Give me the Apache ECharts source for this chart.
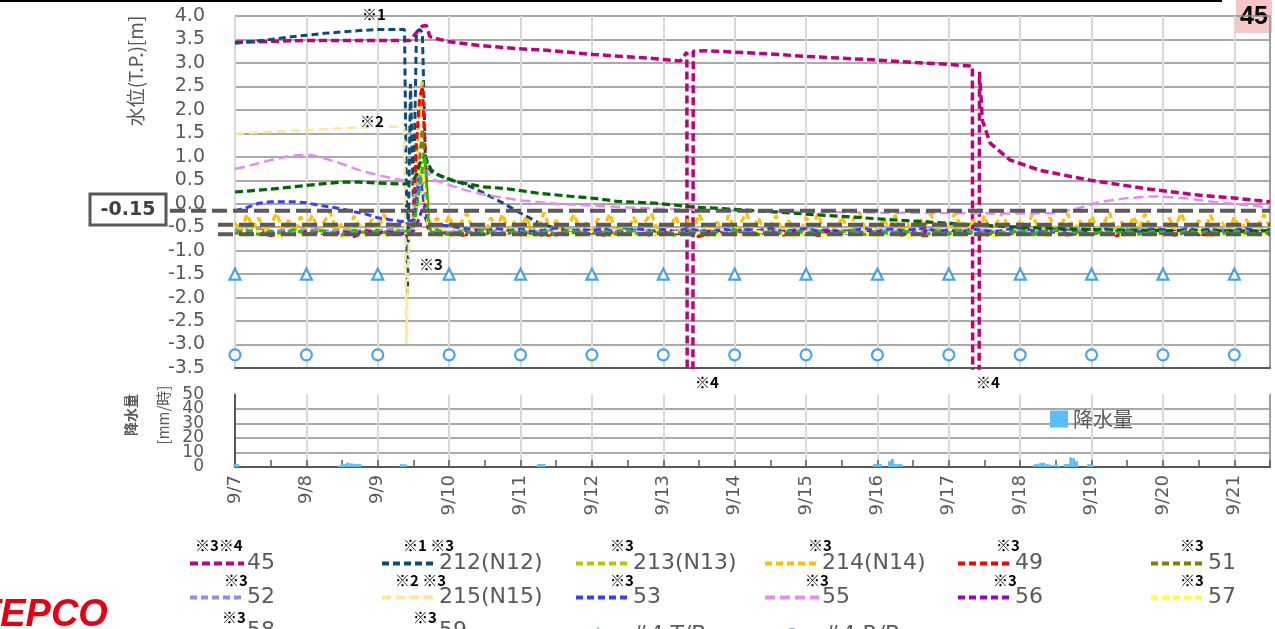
<!DOCTYPE html>
<html>
<head>
<meta charset="utf-8">
<script src="https://cdn.jsdelivr.net/npm/echarts@6/dist/echarts.min.js"></script>
<style>
html,body{margin:0;padding:0;background:#fff;overflow:hidden}
#chart{width:1275px;height:629px}
</style>
</head>
<body>
<div id="chart"></div>
<script>
// ---- x axis: days counted from 9/7 0:00 ----
const dateLabels = ['9/7','9/8','9/9','9/10','9/11','9/12','9/13','9/14','9/15','9/16','9/17','9/18','9/19','9/20','9/21'];

// ---- reference levels (T.P. m) ----
const refLevels = [-0.15, -0.45, -0.65];

// ---- daily readings of building water levels ----
const tbLevels = [-1.5,-1.5,-1.5,-1.5,-1.5,-1.5,-1.5,-1.5,-1.5,-1.5,-1.5,-1.5,-1.5,-1.5,-1.5];
const rbLevels = [-3.22,-3.22,-3.22,-3.22,-3.22,-3.22,-3.22,-3.22,-3.22,-3.22,-3.22,-3.22,-3.22,-3.22,-3.22];

// ---- smooth wells: [day, level] ----
const w45 = [[0,3.44],[0.5,3.46],[1,3.48],[1.5,3.48],[2,3.48],[2.45,3.48],[2.55,3.66],[2.62,3.78],[2.68,3.80],[2.73,3.56],[2.97,3.46],[3.43,3.37],[4.0,3.30],[4.37,3.27],[5.02,3.18],[5.82,3.10],[6.24,3.04],[6.33,3.23],[6.335,-4],[6.415,-4],[6.42,3.25],[6.6,3.26],[7,3.23],[7.5,3.19],[8,3.14],[8.5,3.10],[9,3.06],[9.5,3.01],[10,2.97],[10.33,2.93],[10.335,-4],[10.425,-4],[10.43,2.81],[10.47,1.78],[10.58,1.29],[10.86,0.93],[11.28,0.71],[11.98,0.50],[12.82,0.31],[13.52,0.18],[13.99,0.12],[14.5,0.04]];
const w212 = [[0,3.42],[0.25,3.46],[0.5,3.50],[0.75,3.55],[1,3.59],[1.25,3.63],[1.5,3.66],[1.75,3.69],[2,3.71],[2.375,3.71],[2.4167,-1.9],[2.4583,2.55],[2.5,0.0],[2.5417,3.65],[2.5833,3.72],[2.625,3.65],[2.6667,1.0],[2.7083,0.78],[2.75,0.68],[2.8333,0.62],[3.0,0.52],[3.25,0.40],[3.48,0.23],[3.75,0.02],[3.95,-0.16],[4.27,-0.42],[4.5,-0.52],[4.75,-0.56],[5.0,-0.58],[5.5,-0.55],[6,-0.60],[6.5,-0.57],[7,-0.55],[7.5,-0.59],[8,-0.56],[8.5,-0.60],[9,-0.57],[9.5,-0.55],[10,-0.58],[10.5,-0.60],[11,-0.56],[11.5,-0.58],[12,-0.55],[12.5,-0.59],[13,-0.57],[13.5,-0.56],[14,-0.58],[14.5,-0.57]];
const w215 = [[0,1.49],[0.5,1.53],[1,1.57],[1.5,1.61],[2,1.64],[2.37,1.64],[2.40,-2.98],[2.44,-0.55],[2.6,-0.52],[2.8,-0.56],[3,-0.55],[3.5,-0.58],[4,-0.55],[4.5,-0.57],[5,-0.54],[5.5,-0.58],[6,-0.56],[6.5,-0.53],[7,-0.57],[7.5,-0.55],[8,-0.58],[8.5,-0.54],[9,-0.56],[9.5,-0.58],[10,-0.55],[10.5,-0.57],[11,-0.54],[11.5,-0.56],[12,-0.58],[12.5,-0.55],[13,-0.57],[13.5,-0.54],[14,-0.56],[14.5,-0.55]];
const w55 = [[0,0.74],[0.25,0.83],[0.5,0.93],[0.75,1.01],[1,1.05],[1.1,1.03],[1.25,0.97],[1.5,0.85],[1.75,0.71],[2,0.61],[2.25,0.53],[2.4,0.49],[2.5,0.52],[2.6,0.62],[2.67,0.70],[2.72,0.62],[2.8,0.50],[3,0.40],[3.25,0.28],[3.5,0.19],[4,0.07],[4.5,0.0],[5,-0.04],[5.5,-0.08],[6,-0.11],[6.5,-0.13],[7,-0.15],[8,-0.17],[9,-0.19],[10,-0.20],[11,-0.21],[11.5,-0.20],[11.8,-0.10],[12.1,0.03],[12.5,0.12],[12.9,0.16],[13.3,0.12],[13.7,0.04],[14.1,-0.02],[14.5,-0.08]];
const w58 = [[0,0.25],[0.25,0.28],[0.5,0.31],[0.75,0.35],[1,0.39],[1.25,0.43],[1.5,0.46],[1.75,0.46],[2,0.44],[2.375,0.42],[2.5,0.50],[2.5417,0.62],[2.5833,0.85],[2.625,0.95],[2.6667,1.0],[2.7083,0.85],[2.75,0.72],[2.87,0.60],[3.1,0.47],[3.48,0.36],[3.81,0.32],[4.27,0.22],[4.7,0.16],[5.07,0.11],[5.35,0.05],[5.91,0.01],[6.42,-0.07],[7,-0.12],[7.5,-0.17],[8,-0.22],[8.5,-0.27],[9.3,-0.35],[10,-0.42],[10.5,-0.46],[11,-0.50],[11.5,-0.53],[12,-0.55],[13,-0.57],[14.5,-0.58]];

// ---- fluctuating wells: 2-hourly (214) and 4-hourly (others) readings ----
const w214Base = [-0.40,-0.60,-0.22,-0.52,-0.30,-0.62,-0.45,-0.20,-0.55,-0.35,-0.64,-0.28,
 -0.50,-0.24,-0.58,-0.38,-0.18,-0.55,-0.42,-0.63,-0.26,-0.48,-0.60,-0.33,
 -0.56,-0.22,-0.47,-0.62,-0.36,-0.45,-0.50,-0.55,-0.40,-0.58,-0.30,-0.52,
 -0.25,-0.60,-0.40,-0.20,-0.57,-0.46,-0.65,-0.30,-0.52,-0.22,-0.61,-0.38,
 -0.54,-0.27,-0.62,-0.44,-0.19,-0.58,-0.35,-0.63,-0.48,-0.23,-0.56,-0.40,
 -0.61,-0.32,-0.50,-0.21,-0.59,-0.43,-0.64,-0.28,-0.53,-0.37,-0.20,-0.57,
 -0.45,-0.62,-0.26,-0.51,-0.34,-0.60,-0.22,-0.48,-0.63,-0.39,-0.55,-0.24,
 -0.58,-0.41,-0.19,-0.56,-0.30,-0.62,-0.47,-0.25,-0.60,-0.36,-0.52,-0.64,
 -0.29,-0.49,-0.21,-0.59,-0.42,-0.63,-0.27,-0.54,-0.33,-0.18,-0.57,-0.45,
 -0.62,-0.31,-0.53,-0.24,-0.60,-0.40,-0.65,-0.28,-0.50,-0.22,-0.58,-0.37,
 -0.55,-0.20,-0.47,-0.63,-0.32,-0.57,-0.25,-0.61,-0.43,-0.19,-0.52,-0.60,
 -0.34,-0.58,-0.23,-0.50,-0.64,-0.29,-0.55,-0.41,-0.21,-0.59,-0.36,-0.62,
 -0.26,-0.53,-0.45,-0.18,-0.60,-0.38,-0.63,-0.27,-0.51,-0.22,-0.57,-0.44,
 -0.61,-0.30,-0.55,-0.20,-0.48,-0.64,-0.35,-0.58,-0.24,-0.52,-0.41,-0.62,
 -0.28,-0.56,-0.33,-0.60,-0.46,-0.23,-0.54];
const w214Peak = [[2.4583,-0.45],[2.5,-0.2],[2.5417,0.9],[2.5833,2.0],[2.625,2.6],[2.6667,0.6],[2.7083,-0.3],[2.75,-0.45]];

const w49Base = [-0.62,-0.66,-0.60,-0.68,-0.63,-0.59, -0.65,-0.61,-0.67,-0.62,-0.70,-0.60, -0.64,-0.58,-0.66,-0.60,-0.62,-0.67, -0.61,-0.68,-0.63,-0.57,-0.65,-0.62, -0.66,-0.60,-0.69,-0.63,-0.58,-0.64, -0.62,-0.67,-0.60,-0.65,-0.61,-0.68, -0.59,-0.64,-0.62,-0.70,-0.63,-0.60, -0.66,-0.61,-0.65,-0.58,-0.67,-0.63, -0.60,-0.68,-0.62,-0.64,-0.59,-0.66, -0.63,-0.57,-0.67,-0.61,-0.69,-0.62, -0.65,-0.60,-0.63,-0.68,-0.61,-0.64, -0.58,-0.66,-0.62,-0.60,-0.67,-0.63, -0.64,-0.61,-0.69,-0.62,-0.59,-0.65, -0.62,-0.67,-0.60,-0.64,-0.68,-0.61, -0.63,-0.59,-0.66,-0.62];
const w49Peak = [[2.4583,-0.62],[2.5,-0.45],[2.5417,1.3],[2.5833,2.2],[2.625,2.5],[2.6667,1.0],[2.7083,-0.5],[2.75,-0.6]];

const w51Base = [-0.58,-0.62,-0.56,-0.61,-0.64,-0.57, -0.60,-0.55,-0.63,-0.59,-0.62,-0.66, -0.57,-0.61,-0.60,-0.58,-0.62,-0.59, -0.63,-0.58,-0.61,-0.65,-0.57,-0.60, -0.59,-0.64,-0.56,-0.61,-0.63,-0.58, -0.62,-0.57,-0.65,-0.60,-0.58,-0.63, -0.56,-0.61,-0.59,-0.64,-0.60,-0.57, -0.63,-0.59,-0.62,-0.56,-0.65,-0.60, -0.58,-0.62,-0.60,-0.57,-0.63,-0.61, -0.64,-0.58,-0.61,-0.59,-0.56,-0.62, -0.60,-0.65,-0.58,-0.62,-0.59,-0.57, -0.61,-0.57,-0.63,-0.60,-0.64,-0.58, -0.59,-0.62,-0.56,-0.61,-0.58,-0.63, -0.62,-0.58,-0.64,-0.60,-0.57,-0.61, -0.58,-0.63,-0.60,-0.59];
const w51Peak = [[2.4583,-0.6],[2.5,-0.55],[2.5417,0.0],[2.5833,0.9],[2.625,1.6],[2.6667,0.35],[2.7083,-0.5],[2.75,-0.6]];

const w213Base = [-0.55,-0.59,-0.53,-0.60,-0.56,-0.58, -0.54,-0.60,-0.57,-0.52,-0.59,-0.56, -0.58,-0.55,-0.57,-0.56,-0.58,-0.54, -0.60,-0.55,-0.58,-0.53,-0.57,-0.61, -0.56,-0.52,-0.59,-0.57,-0.54,-0.60, -0.58,-0.61,-0.55,-0.57,-0.53,-0.59, -0.54,-0.58,-0.60,-0.56,-0.59,-0.55, -0.57,-0.53,-0.58,-0.61,-0.55,-0.57, -0.60,-0.56,-0.54,-0.58,-0.61,-0.56, -0.55,-0.59,-0.57,-0.53,-0.58,-0.60, -0.57,-0.54,-0.60,-0.56,-0.59,-0.55, -0.59,-0.56,-0.53,-0.58,-0.55,-0.60, -0.56,-0.60,-0.57,-0.54,-0.59,-0.57, -0.58,-0.55,-0.59,-0.56,-0.53,-0.58, -0.56,-0.59,-0.55,-0.58];
const w213Peak = [[2.4583,-0.57],[2.5,-0.5],[2.5417,-0.1],[2.5833,0.4],[2.625,0.9],[2.6667,0.1],[2.7083,-0.5],[2.75,-0.57]];

const w57Base = [-0.60,-0.68,-0.58,-0.65,-0.70,-0.61, -0.66,-0.59,-0.64,-0.71,-0.60,-0.67, -0.62,-0.69,-0.61,-0.64,-0.60,-0.66, -0.70,-0.61,-0.67,-0.59,-0.65,-0.62, -0.64,-0.71,-0.60,-0.66,-0.62,-0.69, -0.59,-0.65,-0.70,-0.61,-0.67,-0.63, -0.68,-0.60,-0.64,-0.62,-0.71,-0.61, -0.63,-0.69,-0.59,-0.66,-0.62,-0.70, -0.61,-0.65,-0.68,-0.60,-0.64,-0.62, -0.69,-0.62,-0.66,-0.70,-0.60,-0.65, -0.62,-0.68,-0.61,-0.64,-0.69,-0.60, -0.66,-0.60,-0.70,-0.63,-0.61,-0.67, -0.60,-0.66,-0.62,-0.69,-0.64,-0.61, -0.67,-0.61,-0.65,-0.60,-0.70,-0.63, -0.62,-0.68,-0.60,-0.65];
const w57Peak = [[2.4583,-0.62],[2.5,-0.55],[2.5417,-0.2],[2.5833,0.3],[2.625,0.85],[2.6667,0.2],[2.7083,-0.55],[2.75,-0.62]];

const w59Base = [-0.63,-0.56,-0.66,-0.58,-0.62,-0.55, -0.65,-0.57,-0.61,-0.67,-0.56,-0.62, -0.58,-0.64,-0.57,-0.60,-0.62,-0.56, -0.66,-0.58,-0.63,-0.55,-0.65,-0.60, -0.57,-0.64,-0.59,-0.67,-0.56,-0.62, -0.65,-0.58,-0.62,-0.56,-0.66,-0.59, -0.61,-0.67,-0.57,-0.63,-0.58,-0.65, -0.56,-0.62,-0.66,-0.58,-0.64,-0.57, -0.63,-0.57,-0.65,-0.60,-0.56,-0.66, -0.59,-0.64,-0.57,-0.62,-0.67,-0.58, -0.64,-0.56,-0.62,-0.66,-0.59,-0.63, -0.57,-0.65,-0.60,-0.56,-0.64,-0.61, -0.66,-0.58,-0.63,-0.57,-0.65,-0.59, -0.60,-0.66,-0.56,-0.63,-0.58,-0.64, -0.57,-0.62,-0.65,-0.59];
const w59Peak = [[2.4583,-0.6],[2.5,-0.5],[2.5417,-0.1],[2.5833,0.3],[2.625,0.75],[2.6667,1.02],[2.7083,-0.4],[2.75,-0.6]];

const w56Base = [-0.60,-0.63,-0.58,-0.64,-0.61,-0.66, -0.59,-0.62,-0.65,-0.60,-0.63,-0.58, -0.62,-0.60,-0.64,-0.61,-0.59,-0.63, -0.65,-0.60,-0.62,-0.58,-0.64,-0.61, -0.59,-0.63,-0.61,-0.66,-0.60,-0.62, -0.64,-0.58,-0.62,-0.60,-0.65,-0.61, -0.60,-0.64,-0.59,-0.62,-0.58,-0.63, -0.62,-0.66,-0.60,-0.63,-0.61,-0.59, -0.65,-0.61,-0.58,-0.62,-0.64,-0.60, -0.60,-0.63,-0.61,-0.65,-0.59,-0.62, -0.63,-0.59,-0.64,-0.61,-0.60,-0.65, -0.61,-0.64,-0.60,-0.58,-0.63,-0.62, -0.59,-0.62,-0.65,-0.61,-0.64,-0.60, -0.64,-0.60,-0.62,-0.66,-0.61,-0.59, -0.62,-0.65,-0.60,-0.63];
const w56Peak = [[2.4583,-0.61],[2.5,-0.58],[2.5417,-0.45],[2.5833,-0.3],[2.625,-0.1],[2.6667,0.0],[2.7083,-0.55],[2.75,-0.62]];

const w52Base = [-0.56,-0.60,-0.55,-0.61,-0.57,-0.59, -0.58,-0.54,-0.60,-0.57,-0.61,-0.56, -0.59,-0.55,-0.58,-0.57,-0.60,-0.56, -0.61,-0.57,-0.59,-0.55,-0.60,-0.58, -0.56,-0.61,-0.57,-0.59,-0.54,-0.60, -0.58,-0.56,-0.61,-0.57,-0.59,-0.55, -0.60,-0.57,-0.55,-0.59,-0.61,-0.56, -0.57,-0.60,-0.58,-0.54,-0.59,-0.61, -0.55,-0.59,-0.61,-0.57,-0.56,-0.60, -0.59,-0.55,-0.58,-0.60,-0.57,-0.54, -0.61,-0.57,-0.59,-0.56,-0.60,-0.58, -0.56,-0.60,-0.55,-0.61,-0.58,-0.57, -0.60,-0.56,-0.59,-0.57,-0.54,-0.61, -0.57,-0.61,-0.56,-0.59,-0.60,-0.55, -0.59,-0.56,-0.60,-0.58];
const w52Peak = [[2.4583,-0.58],[2.5,-0.45],[2.5417,0.2],[2.5833,0.6],[2.625,0.4],[2.6667,-0.2],[2.7083,-0.5],[2.75,-0.58]];

const w53Base = [-0.15,-0.08,0.01,0.04,0.04,0.04, 0.02,-0.03,-0.07,-0.11,-0.17,-0.22, -0.30,-0.34,-0.38,-0.40,-0.42,-0.45, -0.47,-0.52,-0.55,-0.58,-0.53,-0.57, -0.54,-0.59,-0.56,-0.52,-0.58,-0.55, -0.57,-0.53,-0.60,-0.56,-0.54,-0.58, -0.55,-0.59,-0.53,-0.57,-0.60,-0.54, -0.58,-0.55,-0.57,-0.52,-0.59,-0.56, -0.53,-0.58,-0.55,-0.60,-0.56,-0.53, -0.59,-0.54,-0.57,-0.55,-0.52,-0.58, -0.56,-0.60,-0.54,-0.57,-0.59,-0.55, -0.52,-0.57,-0.59,-0.54,-0.56,-0.60, -0.57,-0.53,-0.58,-0.56,-0.60,-0.54, -0.55,-0.59,-0.53,-0.57,-0.54,-0.58, -0.56,-0.53,-0.59,-0.55];
const w53Peak = [[2.375,-0.38],[2.5,-0.35],[2.5417,0.1],[2.5833,0.55],[2.625,0.3],[2.6667,-0.3],[2.7083,-0.45]];

// ---- hourly rainfall [day, mm/h] ----
const rainfall = [[0.00,2],[0.04,2],
 [1.46,1],[1.50,2],[1.54,2],[1.58,3],[1.63,2.5],[1.67,2],[1.71,2],[1.75,2],
 [2.33,2],[2.38,2],
 [4.25,2],[4.29,2],[4.33,2],
 [8.96,2],[9.00,2],[9.04,2],[9.17,4],[9.21,5.5],[9.25,2],[9.29,2],[9.33,2],
 [11.21,2],[11.25,2],[11.29,3],[11.33,3],[11.38,2],[11.42,1.5],[11.50,2],[11.54,1],[11.63,2],[11.67,2],[11.71,6.5],[11.75,6],[11.79,4],[11.96,2],[12.00,1.5]];

// regular readings plus the hourly readings of the 9/9 event
function withPeak(base, stepDays, peak) {
  const lo = peak[0][0], hi = peak[peak.length - 1][0];
  return base.map((v, i) => [i * stepDays, v])
    .filter(p => p[0] < lo || p[0] > hi)
    .concat(peak)
    .sort((a, b) => a[0] - b[0]);
}

const TEXT = '#595959';
const NUM_FONT = 'DejaVu Sans';
const JP_FONT = 'Noto Sans CJK JP';

function well(name, color, data, width, dash, z) {
  return {
    type: 'line', name: name, xAxisIndex: 0, yAxisIndex: 0, data: data,
    symbol: 'none', showSymbol: false, z: z || 2,
    lineStyle: { color: color, width: width, type: dash, cap: 'butt' },
    itemStyle: { color: color },
    emphasis: { disabled: true }
  };
}

const series = [
  well('45', '#c0007c', w45, 3.5, [8, 4]),
  well('212(N12)', '#0e4d73', w212, 3, [7, 4]),
  well('213(N13)', '#c0c000', withPeak(w213Base, 1/6, w213Peak), 3, [7, 4]),
  well('214(N14)', '#ffc000', withPeak(w214Base, 1/12, w214Peak), 3.2, [7, 4]),
  well('49', '#ff0000', withPeak(w49Base, 1/6, w49Peak), 3, [7, 4]),
  well('51', '#808000', withPeak(w51Base, 1/6, w51Peak), 3, [7, 4]),
  well('52', '#8c8cff', withPeak(w52Base, 1/6, w52Peak), 3, [7, 4]),
  well('215(N15)', '#ffe699', w215, 2.5, [9, 5]),
  well('53', '#3c3cff', withPeak(w53Base, 1/6, w53Peak), 3, [7, 4]),
  well('55', '#e38cf8', w55, 2.5, [10, 5]),
  well('56', '#9900cc', withPeak(w56Base, 1/6, w56Peak), 3, [7, 4]),
  well('57', '#ffff33', withPeak(w57Base, 1/6, w57Peak), 3, [7, 4]),
  well('58', '#006600', w58, 3.2, [8, 4]),
  well('59', '#22bb22', withPeak(w59Base, 1/6, w59Peak), 3, [7, 4]),
  {
    type: 'scatter', name: '#4 T/B', xAxisIndex: 0, yAxisIndex: 0, z: 6,
    data: tbLevels.map((v, i) => [i, v]),
    symbol: 'triangle', symbolSize: 11,
    itemStyle: { color: '#ffffff', borderColor: '#1b8fe3', borderWidth: 2.2 },
    emphasis: { disabled: true }
  },
  {
    type: 'scatter', name: '#4 R/B', xAxisIndex: 0, yAxisIndex: 0, z: 6,
    data: rbLevels.map((v, i) => [i, v]),
    symbol: 'circle', symbolSize: 11,
    itemStyle: { color: '#ffffff', borderColor: '#1b8fe3', borderWidth: 2.2 },
    emphasis: { disabled: true }
  },
  {
    type: 'bar', name: '降水量', xAxisIndex: 1, yAxisIndex: 2,
    data: rainfall, barWidth: 3, itemStyle: { color: '#5bbdf5' },
    emphasis: { disabled: true }
  },
  // reference levels, running out past the left edge of the plot
  {
    type: 'line', name: 'ref0', xAxisIndex: 2, yAxisIndex: 4, z: 8, symbol: 'none',
    data: [[0, refLevels[0]], [1, refLevels[0]]],
    lineStyle: { color: '#5a5a5a', width: 4, type: [15, 6] }, silent: true
  },
  {
    type: 'line', name: 'ref1', xAxisIndex: 3, yAxisIndex: 5, z: 8, symbol: 'none',
    data: [[0, refLevels[1]], [1, refLevels[1]]],
    lineStyle: { color: '#5a5a5a', width: 4, type: [15, 6] }, silent: true
  },
  {
    type: 'line', name: 'ref2', xAxisIndex: 3, yAxisIndex: 5, z: 8, symbol: 'none',
    data: [[0, refLevels[2]], [1, refLevels[2]]],
    lineStyle: { color: '#5a5a5a', width: 4, type: [15, 6] }, silent: true
  }
];

// legend grid: [series name, column, row]
const legendItems = [
  ['45', 0, 0], ['212(N12)', 1, 0], ['213(N13)', 2, 0], ['214(N14)', 3, 0], ['49', 4, 0], ['51', 5, 0],
  ['52', 0, 1], ['215(N15)', 1, 1], ['53', 2, 1], ['55', 3, 1], ['56', 4, 1], ['57', 5, 1],
  ['58', 0, 2], ['59', 1, 2]
];
const legendColLeft = [188, 380, 574, 763, 956, 1149];
const legendRowTop = 549, legendRowStep = 34;
const legendText = { fontSize: 22, color: TEXT, fontFamily: NUM_FONT, lineHeight: 22 };

const legends = legendItems.map(it => ({
  data: [it[0]], left: legendColLeft[it[1]], top: legendRowTop + it[2] * legendRowStep,
  orient: 'horizontal', itemWidth: 54, itemHeight: 14, selectedMode: false, padding: 0,
  lineStyle: { width: 4 },
  itemStyle: { opacity: 0 },
  textStyle: Object.assign({ padding: [0, 0, 7, -2] }, legendText)
}));
// building markers: small symbol, label further right
[['#4 T/B', 591, 22], ['#4 R/B', 785, 20]].forEach(m => {
  legends.push({
    data: [m[0]], left: m[1], top: legendRowTop + 2 * legendRowStep + 4,
    itemWidth: 12, itemHeight: 12, selectedMode: false, padding: 0,
    textStyle: Object.assign({ padding: [0, 0, 6, m[2]] }, legendText)
  });
});
legends.push({
  data: ['降水量'], left: 1050, top: 409, itemWidth: 18, itemHeight: 17, icon: 'rect',
  selectedMode: false, padding: 0,
  textStyle: { fontSize: 20, color: TEXT, fontFamily: JP_FONT }
});

// footnote marks
const noteFont = 'bold 15px "Noto Sans CJK JP"';
const notes = [
  ['※3※4', 195, 545], ['※1 ※3', 403, 545], ['※3', 610, 545], ['※3', 808, 545], ['※3', 996, 545], ['※3', 1180, 545],
  ['※3', 224, 580], ['※2 ※3', 395, 580], ['※3', 610, 580], ['※3', 805, 580], ['※3', 993, 580], ['※3', 1180, 580],
  ['※3', 222, 617], ['※3', 413, 617],
  ['※1', 362, 14], ['※2', 360, 121], ['※3', 419, 264], ['※4', 695, 382], ['※4', 976, 382]
];

const graphics = [
  { type: 'rect', shape: { x: 0, y: 0, width: 1222, height: 2 }, style: { fill: '#000' } },
  { type: 'rect', shape: { x: 1236, y: 0, width: 36, height: 33 }, style: { fill: '#f7c6c6' } },
  { type: 'text', x: 1254, y: 17, style: { text: '45', font: 'bold 25px "Liberation Sans"', fill: '#000', align: 'center', verticalAlign: 'middle' } },
  { type: 'rect', shape: { x: 90, y: 194, width: 76, height: 31 }, style: { fill: '#fff', stroke: '#595959', lineWidth: 3 }, z: 10 },
  { type: 'text', x: 128, y: 210, z: 11, style: { text: refLevels[0].toFixed(2), font: 'bold 19px "DejaVu Sans"', fill: '#404040', align: 'center', verticalAlign: 'middle' } },
  { type: 'text', x: 136, y: 71, rotation: Math.PI / 2, style: { text: '水位(T.P.)[m]', font: '19px "Noto Sans CJK JP"', fill: TEXT, align: 'center', verticalAlign: 'middle' } },
  { type: 'text', x: 131, y: 415, rotation: Math.PI / 2, style: { text: '降水量', font: 'bold 14px "Noto Sans CJK JP"', fill: TEXT, align: 'center', verticalAlign: 'middle' } },
  { type: 'text', x: 163, y: 415, rotation: Math.PI / 2, style: { text: '[mm/時]', font: '15px "Noto Sans CJK JP"', fill: TEXT, align: 'center', verticalAlign: 'middle' } },
  { type: 'text', x: -23, y: 616, style: { text: 'TEPCO', font: 'italic bold 38px "Liberation Sans"', fill: '#e60012', align: 'left', verticalAlign: 'middle' } }
].concat(notes.map(n => ({
  type: 'text', x: n[1], y: n[2], z: 12,
  style: { text: n[0], font: noteFont, fill: '#000', align: 'left', verticalAlign: 'middle' }
})));

const hidden = { show: false };
const rainLabel = { margin: 31, fontSize: 17, color: TEXT, fontFamily: NUM_FONT, showMinLabel: true, showMaxLabel: true, hideOverlap: false };

const option = {
  animation: false,
  backgroundColor: '#ffffff',
  grid: [
    { left: 235, right: 5, top: 16, bottom: 261, outerBoundsMode: 'none' },
    { left: 235, right: 5, top: 394.5, bottom: 162, outerBoundsMode: 'none' },
    { left: 170, right: 5, top: 16, bottom: 261, outerBoundsMode: 'none' },
    { left: 218, right: 5, top: 16, bottom: 261, outerBoundsMode: 'none' }
  ],
  xAxis: [
    {
      gridIndex: 0, type: 'value', min: 0, max: 14.5, interval: 1,
      axisLabel: hidden, axisTick: hidden,
      axisLine: { show: true, onZero: false, lineStyle: { color: '#595959', width: 2 } },
      splitLine: { show: true, lineStyle: { color: '#d9d9d9', width: 2 } }
    },
    {
      gridIndex: 1, type: 'value', min: 0, max: 14.5, interval: 1,
      axisLabel: {
        rotate: 90, margin: 8, fontSize: 18, color: TEXT, fontFamily: NUM_FONT,
        formatter: v => (Number.isInteger(v) && dateLabels[v]) ? dateLabels[v] : ''
      },
      axisTick: { show: true, inside: true, length: 7, lineStyle: { color: '#595959', width: 1.5 } },
      minorTick: { show: true, splitNumber: 2, length: 7, lineStyle: { color: '#595959', width: 1.5 } },
      axisLine: { show: true, onZero: false, lineStyle: { color: '#595959', width: 2 } },
      splitLine: { show: true, lineStyle: { color: '#d9d9d9', width: 2 } }
    },
    { gridIndex: 2, type: 'value', min: 0, max: 1, show: false },
    { gridIndex: 3, type: 'value', min: 0, max: 1, show: false }
  ],
  yAxis: [
    {
      gridIndex: 0, type: 'value', min: -3.5, max: 4, interval: 0.5,
      axisLine: hidden, axisTick: hidden,
      axisLabel: { margin: 30, fontSize: 19, color: TEXT, fontFamily: NUM_FONT, formatter: v => v.toFixed(1), showMinLabel: true, showMaxLabel: true },
      splitLine: { show: true, lineStyle: { color: '#8c8c8c', width: 1.5 } }
    },
    {
      gridIndex: 0, type: 'value', min: -3.5, max: 4, interval: 0.5, position: 'right',
      axisLine: { show: true, lineStyle: { color: '#8c8c8c', width: 1.5 } },
      axisTick: hidden, axisLabel: hidden, splitLine: hidden
    },
    {
      gridIndex: 1, type: 'value', min: 0, max: 50, interval: 10, position: 'left',
      axisLine: { show: true, lineStyle: { color: '#595959', width: 2 } },
      axisTick: hidden,
      axisLabel: Object.assign({}, rainLabel, { formatter: v => (v % 20 === 0 ? String(v) : '') }),
      splitLine: { show: true, showMaxLine: false, lineStyle: { color: '#8c8c8c', width: 1.5 } }
    },
    {
      gridIndex: 1, type: 'value', min: 0, max: 50, interval: 10, position: 'right',
      axisLine: { show: true, lineStyle: { color: '#8c8c8c', width: 1.5 } },
      axisTick: hidden, axisLabel: hidden, splitLine: hidden
    },
    { gridIndex: 2, type: 'value', min: -3.5, max: 4, show: false },
    { gridIndex: 3, type: 'value', min: -3.5, max: 4, show: false },
    {
      gridIndex: 1, type: 'value', min: 0, max: 50, interval: 10, position: 'left', offset: 0,
      axisLine: hidden, axisTick: hidden, splitLine: hidden,
      axisLabel: Object.assign({}, rainLabel, { formatter: v => (v % 20 === 10 ? String(v) : '') })
    }
  ],
  legend: legends,
  graphic: graphics,
  series: series
};

const chart = echarts.init(document.getElementById('chart'), null, { renderer: 'canvas' });
chart.setOption(option);
</script>
</body>
</html>
